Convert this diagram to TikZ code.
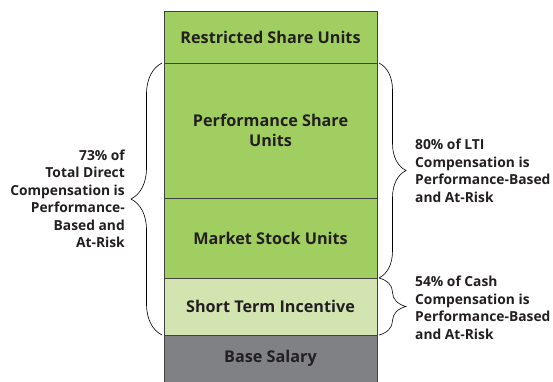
\documentclass[tikz,border=0pt]{standalone}
\usepackage{fontspec}
\setmainfont{Open Sans}
\usetikzlibrary{decorations.pathreplacing}
\definecolor{ltigreen}{HTML}{A1CE60}
\definecolor{stigreen}{HTML}{D2E4B0}
\definecolor{basegray}{HTML}{808185}
\definecolor{inkgray}{HTML}{231F20}

\begin{document}
\begin{tikzpicture}[x=1pt, y=-1pt, auto=center,
	seg/.style={rectangle, draw=inkgray!85, line width=0.8pt, anchor=north west, minimum width=213pt, outer sep=0pt, align=center, text=inkgray, font=\bfseries\fontsize{16.2}{20.6}\selectfont},
	note/.style={inner sep=0pt, text=inkgray, font=\bfseries\fontsize{13.8}{17.5}\selectfont},
	curly/.style={decorate, decoration={brace, amplitude=#1}, line width=0.6pt}]
			\useasboundingbox (0,0) rectangle (553,381);
			\node[seg, fill=ltigreen, minimum height=52pt](RSU) at (164, 11) {Restricted Share Units};
			\node[seg, fill=ltigreen, minimum height=135pt](PSU) at (164, 63) {Performance Share\\Units};
			\node[seg, fill=ltigreen, minimum height=80pt](MSU) at (164, 198) {Market Stock Units};
			\node[seg, fill=stigreen, minimum height=57pt](STI) at (164, 278) {Short Term Incentive};
			\node[seg, fill=basegray, minimum height=47pt](BASE) at (164, 335) {Base Salary};
			\draw[curly=31pt]([xshift=-2pt]STI.south west) -- ([xshift=-2pt]PSU.north west);
			\draw[curly=27pt]([xshift=2pt]PSU.north east) -- ([xshift=2pt]MSU.south east);
			\draw[curly=27pt]([xshift=2pt]MSU.south east) -- ([xshift=2pt]STI.south east);
			\node[note, anchor=east, align=right](TDC) at (125, 199) {73\% of\\Total Direct\\Compensation is\\Performance-\\Based and\\At-Risk};
			\node[note, anchor=west, align=left](LTI) at (415, 171) {80\% of LTI\\Compensation is\\Performance-Based\\and At-Risk};
			\node[note, anchor=west, align=left](CASH) at (415, 308) {54\% of Cash\\Compensation is\\Performance-Based\\and At-Risk};
		\end{tikzpicture}
\end{document}
